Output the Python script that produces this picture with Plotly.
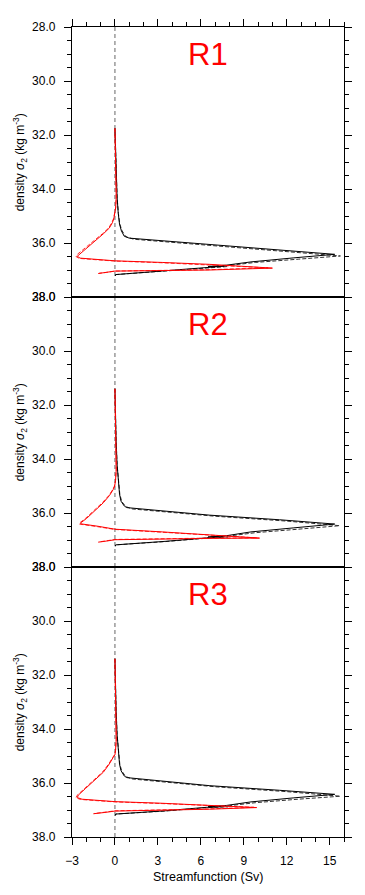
import plotly.graph_objects as go
from plotly.subplots import make_subplots

panel_names = ["R1", "R2", "R3"]
x_ticks = [-3, 0, 3, 6, 9, 12, 15]
y_ticks = [28, 30, 32, 34, 36, 38]

# ---------------- R1 ----------------
R1_black_sigma = [31.75, 32.5, 33.5, 34.3, 34.9, 35.3, 35.55, 35.75, 35.82, 36.05, 36.25, 36.42, 36.55, 36.7, 36.82, 36.87, 36.86, 36.91, 37.02, 37.12, 37.17, 37.22]
R1_black_sv    = [0.0, 0.03, 0.08, 0.15, 0.23, 0.32, 0.45, 0.65, 1.0, 6.6, 11.5, 15.35, 12.5, 9.5, 7.8, 6.5, 7.6, 6.4, 4.0, 1.5, 0.05, 0.03]
R1_blackd_sigma = [31.75, 32.5, 33.5, 34.3, 34.9, 35.3, 35.55, 35.76, 35.86, 36.1, 36.3, 36.48, 36.6, 36.72, 36.83, 36.88, 36.87, 36.92, 37.03, 37.12, 37.17, 37.22]
R1_blackd_sv    = [0.0, 0.03, 0.08, 0.15, 0.24, 0.34, 0.5, 0.75, 1.3, 7.0, 12.0, 15.75, 12.8, 9.8, 8.0, 6.7, 7.9, 6.5, 4.0, 1.5, 0.05, 0.03]
R1_red_sigma = [31.75, 32.5, 33.2, 33.7, 34.3, 34.7, 34.9, 35.1, 35.25, 35.45, 35.66, 35.97, 36.27, 36.42, 36.49, 36.56, 36.61, 36.66, 36.72, 36.79, 36.93, 37.0, 37.04, 37.1, 37.13]
R1_red_sv    = [0.0, 0.03, 0.07, 0.1, 0.09, 0.05, 0.0, -0.08, -0.18, -0.4, -0.81, -1.51, -2.21, -2.55, -2.63, -2.44, -1.2, 0.0, 3.3, 6.6, 11.0, 6.6, 0.0, -0.6, -1.17]
R1_redd_sigma = [31.75, 32.5, 33.2, 33.7, 34.3, 34.7, 34.9, 35.1, 35.25, 35.45, 35.66, 35.97, 36.28, 36.43, 36.5, 36.57, 36.62, 36.67, 36.73, 36.8, 36.92, 36.99, 37.04, 37.09, 37.12]
R1_redd_sv    = [0.0, 0.03, 0.07, 0.1, 0.09, 0.05, -0.02, -0.1, -0.22, -0.45, -0.88, -1.6, -2.3, -2.65, -2.72, -2.5, -1.3, 0.0, 3.2, 6.4, 10.7, 6.5, 0.0, -0.6, -1.1]

# ---------------- R2 ----------------
R2_black_sigma = [31.4, 32.3, 33.3, 34.2, 34.9, 35.3, 35.56, 35.74, 35.8, 36.08, 36.25, 36.41, 36.55, 36.7, 36.84, 36.89, 36.88, 36.92, 37.05, 37.14, 37.18, 37.23]
R2_black_sv    = [0.0, 0.03, 0.08, 0.15, 0.23, 0.32, 0.42, 0.65, 0.82, 6.63, 11.5, 15.35, 12.5, 9.5, 7.8, 6.5, 7.6, 6.4, 3.5, 1.0, 0.05, 0.03]
R2_blackd_sigma = [31.4, 32.3, 33.3, 34.2, 34.9, 35.3, 35.57, 35.76, 35.85, 36.12, 36.3, 36.47, 36.6, 36.73, 36.85, 36.9, 36.89, 36.93, 37.06, 37.14, 37.18, 37.23]
R2_blackd_sv    = [0.0, 0.03, 0.08, 0.15, 0.24, 0.34, 0.47, 0.75, 1.2, 7.0, 12.0, 15.7, 12.8, 9.8, 8.0, 6.7, 7.9, 6.5, 3.5, 1.0, 0.05, 0.03]
R2_red_sigma = [31.4, 32.3, 33.2, 33.8, 34.4, 34.8, 35.0, 35.13, 35.35, 35.62, 35.99, 36.2, 36.35, 36.4, 36.49, 36.6, 36.7, 36.8, 36.93, 36.94, 36.99, 37.04, 37.08]
R2_red_sv    = [0.0, 0.03, 0.07, 0.1, 0.09, 0.04, -0.02, -0.12, -0.38, -0.81, -1.51, -1.98, -2.35, -2.4, -1.2, 0.0, 3.3, 6.63, 10.1, 6.63, 0.0, -0.6, -1.17]
R2_redd_sigma = [31.4, 32.3, 33.2, 33.8, 34.4, 34.8, 35.0, 35.13, 35.35, 35.62, 35.99, 36.2, 36.36, 36.41, 36.5, 36.61, 36.71, 36.81, 36.92, 36.93, 36.98, 37.03, 37.07]
R2_redd_sv    = [0.0, 0.03, 0.07, 0.1, 0.09, 0.04, -0.03, -0.15, -0.42, -0.88, -1.6, -2.06, -2.45, -2.5, -1.3, 0.0, 3.2, 6.4, 9.9, 6.5, 0.0, -0.6, -1.1]

# ---------------- R3 ----------------
R3_black_sigma = [31.4, 32.3, 33.3, 34.2, 34.9, 35.3, 35.54, 35.74, 35.8, 36.1, 36.27, 36.42, 36.55, 36.7, 36.83, 36.88, 36.87, 36.9, 37.03, 37.12, 37.15, 37.2]
R3_black_sv    = [0.0, 0.03, 0.08, 0.15, 0.23, 0.32, 0.42, 0.65, 0.82, 6.63, 11.5, 15.35, 12.5, 9.5, 7.8, 6.5, 7.6, 6.4, 3.5, 1.0, 0.05, 0.03]
R3_blackd_sigma = [31.4, 32.3, 33.3, 34.2, 34.9, 35.3, 35.55, 35.76, 35.85, 36.14, 36.32, 36.49, 36.6, 36.73, 36.84, 36.89, 36.88, 36.91, 37.04, 37.12, 37.15, 37.2]
R3_blackd_sv    = [0.0, 0.03, 0.08, 0.15, 0.24, 0.34, 0.47, 0.75, 1.2, 7.0, 12.0, 15.75, 12.8, 9.8, 8.0, 6.7, 7.9, 6.5, 3.5, 1.0, 0.05, 0.03]
R3_red_sigma = [31.4, 32.3, 33.2, 33.8, 34.4, 34.8, 34.95, 35.05, 35.3, 35.6, 35.96, 36.2, 36.45, 36.54, 36.6, 36.65, 36.69, 36.75, 36.82, 36.91, 36.97, 37.04, 37.09, 37.14]
R3_red_sv    = [0.0, 0.03, 0.07, 0.1, 0.09, 0.04, 0.0, -0.12, -0.4, -0.81, -1.51, -2.05, -2.56, -2.63, -2.3, -1.0, 0.0, 3.3, 6.63, 9.9, 6.63, 0.0, -0.7, -1.51]
R3_redd_sigma = [31.4, 32.3, 33.2, 33.8, 34.4, 34.8, 34.95, 35.05, 35.3, 35.6, 35.96, 36.2, 36.46, 36.55, 36.61, 36.66, 36.7, 36.76, 36.83, 36.9, 36.96, 37.03, 37.08, 37.13]
R3_redd_sv    = [0.0, 0.03, 0.07, 0.1, 0.09, 0.04, -0.02, -0.15, -0.44, -0.88, -1.6, -2.15, -2.65, -2.72, -2.4, -1.1, 0.0, 3.2, 6.4, 9.7, 6.5, 0.0, -0.7, -1.45]

panels = [
    (R1_black_sigma, R1_black_sv, R1_blackd_sigma, R1_blackd_sv, R1_red_sigma, R1_red_sv, R1_redd_sigma, R1_redd_sv),
    (R2_black_sigma, R2_black_sv, R2_blackd_sigma, R2_blackd_sv, R2_red_sigma, R2_red_sv, R2_redd_sigma, R2_redd_sv),
    (R3_black_sigma, R3_black_sv, R3_blackd_sigma, R3_blackd_sv, R3_red_sigma, R3_red_sv, R3_redd_sigma, R3_redd_sv),
]

FONT = "Liberation Sans, Arial, Helvetica, sans-serif"

fig = make_subplots(rows=3, cols=1, vertical_spacing=0)

for i, p in enumerate(panels):
    r = i + 1
    bs, bv, bds, bdv, rs, rv, rds, rdv = p
    fig.add_trace(go.Scatter(x=bdv, y=bds, mode="lines", line=dict(color="#333333", width=1, dash="4px,2px"), showlegend=False), row=r, col=1)
    fig.add_trace(go.Scatter(x=bv, y=bs, mode="lines", line=dict(color="black", width=1), showlegend=False), row=r, col=1)
    fig.add_trace(go.Scatter(x=rdv, y=rds, mode="lines", line=dict(color="#ff3030", width=1, dash="4px,2px"), showlegend=False), row=r, col=1)
    fig.add_trace(go.Scatter(x=rv, y=rs, mode="lines", line=dict(color="red", width=1), showlegend=False), row=r, col=1)

    xa = "x" if r == 1 else f"x{r}"
    ya = "y" if r == 1 else f"y{r}"
    # zero line
    fig.add_shape(type="line", xref=xa, yref=f"{ya} domain", x0=0, x1=0, y0=0, y1=1,
                  line=dict(color="#666666", width=1, dash="4px,3px"), layer="below")
    # panel title
    fig.add_annotation(text=panel_names[i], xref=f"{xa} domain", yref=f"{ya} domain",
                       x=0.5, y=1 - 28 / 272, xanchor="center", yanchor="middle",
                       showarrow=False, font=dict(family=FONT, size=31, color="red"))
    # y title
    fig.add_annotation(text="density <i>σ</i><sub>2</sub> (kg m<sup>-3</sup>)", xref="paper", yref=f"{ya} domain",
                       x=-0.19, y=0.5, xanchor="center", yanchor="middle", textangle=-90,
                       showarrow=False, font=dict(family=FONT, size=12, color="black"))

    fig.update_yaxes(row=r, col=1, range=[38, 28], tickvals=y_ticks,
                     ticktext=[f"{v:.1f}" for v in y_ticks],
                     ticks="outside", ticklen=7, tickwidth=1.2, tickcolor="black",
                     minor=dict(ticks="outside", ticklen=4, dtick=0.5, tick0=28, tickcolor="black", showgrid=False),
                     showline=True, linecolor="black", linewidth=1.4, mirror="ticks",
                     showgrid=False, zeroline=False, ticklabelstandoff=6,
                     tickfont=dict(family=FONT, size=12, color="black"))
    xkw = dict(range=[-3, 16], tickvals=x_ticks, showline=True, linecolor="black", linewidth=1.4,
               mirror=True, showgrid=False, zeroline=False,
               tickfont=dict(family=FONT, size=12, color="black"))
    if r == 1:
        xkw.update(side="top", ticks="outside", ticklen=7, tickwidth=1.2, tickcolor="black", showticklabels=False,
                   minor=dict(ticks="outside", ticklen=4, dtick=1, tick0=0, tickcolor="black", showgrid=False))
    elif r == 2:
        xkw.update(ticks="", showticklabels=False)
    else:
        xkw.update(side="bottom", ticks="outside", ticklen=7, tickwidth=1.2, tickcolor="black", showticklabels=True,
                   ticklabelstandoff=5,
                   minor=dict(ticks="outside", ticklen=4, dtick=1, tick0=0, tickcolor="black", showgrid=False))
    fig.update_xaxes(row=r, col=1, **xkw)

fig.add_annotation(text="Streamfunction (Sv)", xref="x3 domain", yref="paper", x=0.5, y=-40 / 817,
                   xanchor="center", yanchor="middle", showarrow=False,
                   font=dict(family=FONT, size=12.5, color="black"))

# page body adds an 8px offset; compensate in the margins
fig.update_layout(width=365, height=895, margin=dict(l=64, r=29, t=12, b=66),
                  paper_bgcolor="white", plot_bgcolor="white", showlegend=False)

fig.write_html("out.html")
